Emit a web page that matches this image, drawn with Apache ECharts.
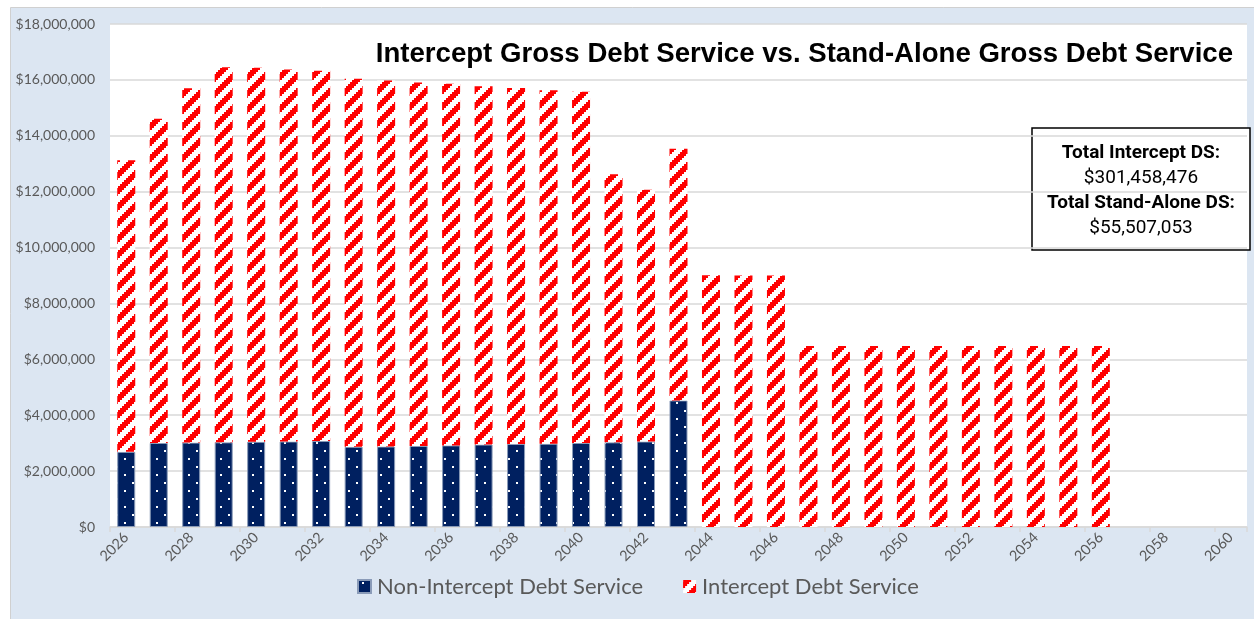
<!DOCTYPE html>
<html>
<head>
<meta charset="utf-8">
<script src="https://cdn.jsdelivr.net/npm/echarts@6/dist/echarts.min.js"></script>
<style>
  html, body { margin: 0; padding: 0; background: #ffffff; }
  #chart { width: 1254px; height: 619px; }
</style>
</head>
<body>
<div id="chart"></div>
<script>
// Fiscal years on the category axis
const years = ['2026','2027','2028','2029','2030','2031','2032','2033','2034','2035',
  '2036','2037','2038','2039','2040','2041','2042','2043','2044','2045',
  '2046','2047','2048','2049','2050','2051','2052','2053','2054','2055',
  '2056','2057','2058','2059','2060'];

// Stand-alone (non-intercept) debt service, dollars per year
const nonInterceptDS = [2690000, 3010000, 3020000, 3030000, 3050000, 3060000, 3080000, 2870000,
  2880000, 2900000, 2920000, 2950000, 2970000, 2980000, 3010000, 3030000, 3060000, 4530000,
  null, null, null, null, null, null, null, null, null, null, null, null, null,
  null, null, null, null];

// Intercept debt service stacked above it, dollars per year
const interceptDS = [10430000, 11600000, 12680000, 13420000, 13380000, 13310000, 13250000, 13170000,
  13100000, 13010000, 12940000, 12820000, 12740000, 12650000, 12570000, 9590000, 9010000, 9010000,
  9010000, 9000000, 9000000, 6480000, 6480000, 6480000, 6480000, 6480000, 6480000, 6480000,
  6480000, 6480000, 6480000, null, null, null, null];

const seriesNames = ['Non-Intercept Debt Service', 'Intercept Debt Service'];
const totals = [
  ['Total Intercept DS:', '$301,458,476'],
  ['Total Stand-Alone DS:', '$55,507,053']
];
const titleText = 'Intercept Gross Debt Service vs. Stand-Alone Gross Debt Service';

// Pixel-pattern fills: 8x8 base tiles drawn at 2x
function makeTile(bg, fg, test) {
  const c = document.createElement('canvas');
  c.width = 16; c.height = 16;
  const ctx = c.getContext('2d');
  ctx.fillStyle = bg;
  ctx.fillRect(0, 0, 16, 16);
  ctx.fillStyle = fg;
  for (let y = 0; y < 8; y++) {
    for (let x = 0; x < 8; x++) {
      if (test(x, y)) ctx.fillRect(x * 2, y * 2, 2, 2);
    }
  }
  return c;
}
const stripeTile = makeTile('#ffffff', '#ff0000', (x, y) => ((x + y) % 8) < 4);
const dotTile = makeTile('#002060', '#ffffff', (x, y) => (x === 2 && y === 1) || (x === 6 && y === 5));

const fmtMoney = v => '$' + String(v).replace(/\B(?=(\d{3})+(?!\d))/g, ',');

const chart = echarts.init(document.getElementById('chart'), null, { renderer: 'canvas' });

const textColor = '#595959';
const gridColor = '#d9d9d9';

chart.setOption({
  animation: false,
  backgroundColor: '#ffffff',
  title: {
    text: titleText,
    right: 16,
    top: 35,
    textStyle: {
      fontFamily: 'Liberation Sans, Arial, sans-serif',
      fontWeight: 'bold',
      fontSize: 27.6,
      lineHeight: 28,
      color: '#000000'
    }
  },
  legend: {
    left: 352,
    top: 570,
    itemWidth: 13,
    itemHeight: 13,
    itemGap: 40,
    icon: 'rect',
    data: seriesNames,
    textStyle: {
      fontFamily: 'Lato, sans-serif',
      fontSize: 22,
      lineHeight: 23,
      color: textColor,
      padding: [0, 0, 0, 1]
    }
  },
  grid: {
    left: 110,
    right: 7,
    top: 24,
    bottom: 92,
    show: true,
    backgroundColor: '#ffffff',
    borderWidth: 0
  },
  xAxis: {
    type: 'category',
    data: years,
    boundaryGap: true,
    axisLine: { show: true, lineStyle: { color: gridColor, width: 1.5 } },
    axisTick: { show: true, interval: 1, length: 5, lineStyle: { color: gridColor, width: 1.5 } },
    axisLabel: {
      interval: 1,
      rotate: 45,
      margin: 8,
      fontFamily: 'Lato, sans-serif',
      fontSize: 14.5,
      color: textColor
    }
  },
  yAxis: {
    type: 'value',
    min: 0,
    max: 18000000,
    interval: 2000000,
    axisLine: { show: false },
    axisTick: { show: false },
    splitLine: { lineStyle: { color: gridColor, width: 1.5 } },
    axisLabel: {
      margin: 15,
      fontFamily: 'Lato, sans-serif',
      fontSize: 14,
      color: textColor,
      formatter: v => fmtMoney(v)
    }
  },
  graphic: [
    {
      type: 'rect',
      z: -10,
      silent: true,
      shape: { x: 10.5, y: 7.5, width: 1250, height: 620 },
      style: { fill: '#dce6f2', stroke: '#d0d0d0', lineWidth: 1 }
    },
    {
      type: 'group',
      z: 100,
      children: [
        {
          type: 'rect',
          shape: { x: 1032, y: 128, width: 218, height: 122 },
          style: { fill: '#ffffff', stroke: '#000000', lineWidth: 1.5 }
        },
        ...totals.flatMap((pair, i) => [
          {
            type: 'text',
            x: 1141,
            y: 153 + i * 50,
            style: {
              text: pair[0],
              align: 'center',
              verticalAlign: 'middle',
              fontFamily: 'Roboto, sans-serif',
              fontWeight: 'bold',
              fontSize: 19,
              fill: '#000000'
            }
          },
          {
            type: 'text',
            x: 1141,
            y: 178 + i * 50,
            style: {
              text: pair[1],
              align: 'center',
              verticalAlign: 'middle',
              fontFamily: 'Roboto, sans-serif',
              fontSize: 19,
              fill: '#000000'
            }
          }
        ])
      ]
    }
  ],
  series: [
    {
      name: seriesNames[0],
      type: 'bar',
      stack: 'ds',
      barWidth: 18,
      data: nonInterceptDS,
      itemStyle: {
        color: { image: dotTile, repeat: 'repeat' },
        borderColor: '#8a9bb8',
        borderWidth: 1
      }
    },
    {
      name: seriesNames[1],
      type: 'bar',
      stack: 'ds',
      barWidth: 18,
      data: interceptDS,
      itemStyle: {
        color: { image: stripeTile, repeat: 'repeat' }
      }
    }
  ]
});
</script>
</body>
</html>
